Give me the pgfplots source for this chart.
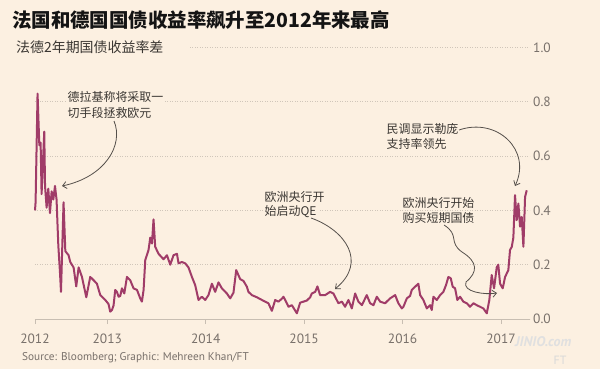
\documentclass[border=0pt]{standalone}
\usepackage{pgfplots}
\pgfplotsset{compat=1.18}
\usepackage{fontspec}
\setmainfont{PT Sans}
\newfontfamily\cjk{Noto Sans CJK SC}
\usetikzlibrary{arrows.meta}
\definecolor{bg}{RGB}{252,240,225}
\definecolor{linecol}{RGB}{160,60,104}
\definecolor{tickgray}{RGB}{120,112,106}
\definecolor{axisgray}{RGB}{200,190,178}
\definecolor{gridgray}{RGB}{208,198,186}
\definecolor{annot}{RGB}{58,54,50}
\definecolor{arrowcol}{RGB}{85,80,75}
\begin{document}
\begin{tikzpicture}
\fill[bg] (0,0) rectangle (600bp,-369bp);
\begin{axis}[
  at={(35bp,-319bp)}, anchor=south west,
  scale only axis, width=495bp, height=271.5bp,
  xmin=2012.266, xmax=2017.294, ymin=0, ymax=1,
  axis x line=bottom, axis y line=right,
  x axis line style={-, draw=axisgray, line width=0.8bp},
  y axis line style={draw=none},
  xtick={2012.266,2013,2014,2015,2016,2017},
  xticklabels={2012,2013,2014,2015,2016,2017},
  xtick style={draw=axisgray, line width=0.8bp},
  tick align=outside, major tick length=5bp,
  ytick={0,0.2,0.4,0.6,0.8,1},
  yticklabels={0.0,0.2,0.4,0.6,0.8,1.0},
  ytick style={draw=none},
  ymajorgrids,
  grid style={draw=gridgray, line width=0.8bp, dash pattern=on 1bp off 1.5bp},
  tick label style={font=\fontsize{13.5}{14}\selectfont, text=tickgray},
  xticklabel style={inner sep=0pt, yshift=-10bp},
  yticklabel style={anchor=west, inner sep=0pt, xshift=-2bp},
  clip=false,
]
\addplot[linecol, line width=2bp, line join=round, no markers] table {
2012.266 0.40
2012.272 0.43
2012.292 0.83
2012.310 0.64
2012.323 0.65
2012.333 0.46
2012.360 0.69
2012.368 0.49
2012.384 0.41
2012.401 0.48
2012.418 0.39
2012.435 0.47
2012.452 0.44
2012.469 0.49
2012.485 0.44
2012.503 0.27
2012.520 0.17
2012.530 0.10
2012.556 0.43
2012.574 0.25
2012.607 0.235
2012.624 0.21
2012.658 0.19
2012.685 0.12
2012.709 0.19
2012.743 0.155
2012.787 0.08
2012.827 0.155
2012.861 0.143
2012.895 0.13
2012.929 0.088
2012.980 0.07
2013.013 0.055
2013.030 0.027
2013.048 0.033
2013.064 0.05
2013.081 0.107
2013.098 0.10
2013.115 0.082
2013.132 0.085
2013.149 0.113
2013.173 0.094
2013.200 0.155
2013.233 0.143
2013.267 0.113
2013.302 0.107
2013.335 0.076
2013.352 0.064
2013.369 0.107
2013.386 0.217
2013.419 0.254
2013.437 0.30
2013.454 0.278
2013.470 0.367
2013.487 0.266
2013.521 0.24
2013.572 0.22
2013.606 0.235
2013.640 0.20
2013.673 0.235
2013.708 0.24
2013.724 0.205
2013.758 0.21
2013.792 0.205
2013.825 0.19
2013.860 0.155
2013.893 0.125
2013.927 0.07
2013.961 0.082
2013.995 0.07
2014.028 0.088
2014.063 0.13
2014.096 0.10
2014.130 0.135
2014.164 0.113
2014.215 0.094
2014.249 0.076
2014.282 0.097
2014.310 0.18
2014.350 0.147
2014.384 0.14
2014.418 0.119
2014.434 0.10
2014.469 0.088
2014.520 0.08
2014.587 0.067
2014.637 0.058
2014.672 0.03
2014.706 0.07
2014.739 0.064
2014.774 0.075
2014.790 0.082
2014.824 0.058
2014.841 0.045
2014.875 0.051
2014.926 0.021
2014.959 0.06
2014.993 0.064
2015.027 0.068
2015.061 0.08
2015.078 0.094
2015.112 0.10
2015.135 0.12
2015.162 0.088
2015.213 0.088
2015.264 0.10
2015.297 0.094
2015.348 0.058
2015.383 0.064
2015.416 0.045
2015.450 0.07
2015.484 0.039
2015.518 0.094
2015.551 0.064
2015.586 0.051
2015.636 0.088
2015.670 0.058
2015.704 0.051
2015.738 0.082
2015.772 0.064
2015.822 0.058
2015.873 0.076
2015.924 0.088
2015.957 0.058
2015.992 0.039
2016.008 0.045
2016.043 0.076
2016.076 0.085
2016.093 0.107
2016.127 0.119
2016.160 0.13
2016.178 0.088
2016.211 0.07
2016.246 0.039
2016.279 0.051
2016.296 0.033
2016.313 0.082
2016.347 0.07
2016.381 0.088
2016.414 0.10
2016.441 0.125
2016.465 0.155
2016.489 0.15
2016.509 0.119
2016.533 0.113
2016.556 0.07
2016.584 0.082
2016.617 0.064
2016.652 0.058
2016.685 0.045
2016.719 0.058
2016.753 0.051
2016.787 0.045
2016.820 0.039
2016.855 0.021
2016.881 0.07
2016.905 0.162
2016.929 0.113
2016.956 0.19
2016.972 0.20
2016.990 0.13
2017.017 0.113
2017.041 0.155
2017.074 0.18
2017.091 0.254
2017.109 0.266
2017.125 0.30
2017.142 0.456
2017.159 0.364
2017.176 0.425
2017.193 0.34
2017.210 0.376
2017.227 0.266
2017.244 0.45
2017.261 0.474
};
\end{axis}
\begin{scope}[x=1bp, y=-1bp]
  % title and subtitle
  \node[anchor=west, inner sep=0pt, font=\cjk\bfseries\fontsize{19.5}{22}\selectfont, text=black!92] at (12,20) {法国和德国国债收益率飙升至2012年来最高};
  \fill[bg] (10,40) rectangle (190,56);
  \node[anchor=west, inner sep=0pt, font=\cjk\fontsize{14}{16}\selectfont, text=annot] at (16,47.5) {法德2年期国债收益率差};
  % annotations
  \begin{scope}[every node/.style={anchor=west, inner sep=1.5bp, fill=bg, font=\cjk\fontsize{12}{14}\selectfont, text=annot}]
    \node at (66,97) {德拉基称将采取一};
    \node at (66,113) {切手段拯救欧元};
    \node at (263,197) {欧洲央行开};
    \node at (263,212) {始启动QE};
    \node at (385,129) {民调显示勒庞};
    \node at (385,144) {支持率领先};
    \node at (401,203) {欧洲央行开始};
    \node at (401,218) {购买短期国债};
  \end{scope}
  \begin{scope}[draw=arrowcol, line width=0.8bp, -{Straight Barb[length=4bp,width=7bp]}]
    \draw (114,121) .. controls (124,145) and (105,177) .. (62,186);
    \draw (311,218) .. controls (345,230) and (368,262) .. (335,289);
    \draw (459,130) .. controls (497,117) and (532,150) .. (515,186);
    \draw (444,225) .. controls (460,235) and (448,242) .. (462,252) .. controls (478,262) and (478,272) .. (466,282) .. controls (462,292) and (485,295) .. (497,293);
  \end{scope}
  % source
  \node[anchor=west, inner sep=0pt, font=\fontsize{11.3}{13}\selectfont, text=tickgray] at (22,358) {Source: Bloomberg; Graphic: Mehreen Khan/FT};
  % watermark
  \node[anchor=west, inner sep=0pt, font=\bfseries\itshape\fontsize{14}{14}\selectfont, text=black!12] at (515,342) {JINIO.com};
  \node[anchor=center, inner sep=0pt, font=\fontsize{12}{12}\selectfont, text=black!15] at (560,360) {FT};
\end{scope}
\pgfresetboundingbox
\useasboundingbox (0,0) rectangle (600bp,-369bp);
\end{tikzpicture}
\end{document}
